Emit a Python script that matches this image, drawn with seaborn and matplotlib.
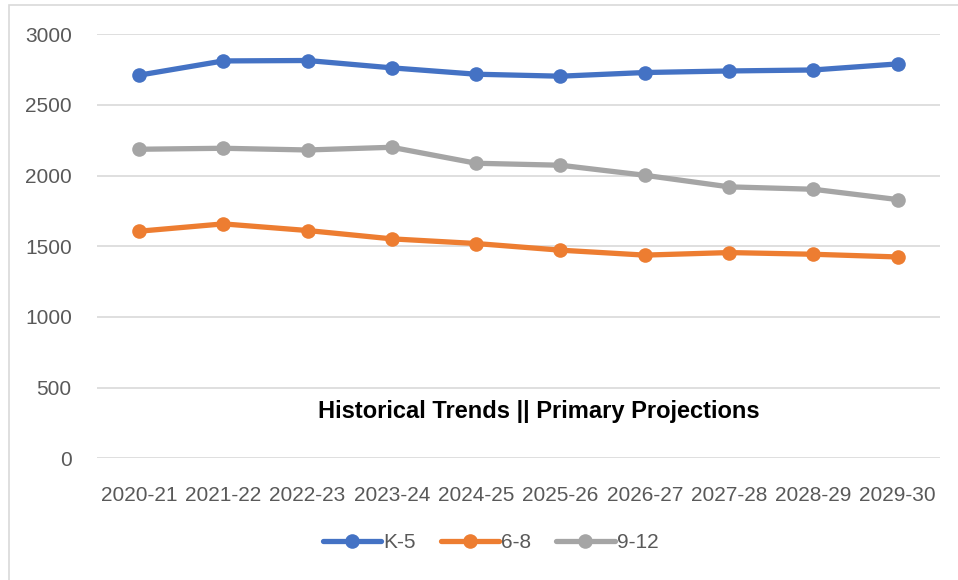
import matplotlib
matplotlib.use('Agg')
import matplotlib.pyplot as plt
from matplotlib.lines import Line2D
from matplotlib.patches import Rectangle
import seaborn as sns
import pandas as pd

# School years on the x axis
years = ['2020-21', '2021-22', '2022-23', '2023-24', '2024-25',
         '2025-26', '2026-27', '2027-28', '2028-29', '2029-30']

# Enrollment by grade band
k5 = [2710, 2811, 2814, 2762, 2717, 2703, 2729, 2740, 2747, 2790]
g6_8 = [1606, 1658, 1611, 1552, 1519, 1472, 1437, 1455, 1443, 1424]
g9_12 = [2186, 2193, 2181, 2200, 2087, 2073, 2002, 1920, 1903, 1830]

grades = ['K-5', '6-8', '9-12']
colors = ['#4472C4', '#ED7D31', '#A5A5A5']

# long format for seaborn
df = pd.DataFrame({
    'Year': years * 3,
    'Enrollment': k5 + g6_8 + g9_12,
    'Grade': [g for g in grades for _ in years],
})

sns.set_theme(style='white')
plt.rcParams['font.family'] = ['Liberation Sans', 'DejaVu Sans']

fig = plt.figure(figsize=(9.58, 5.8), dpi=100)
ax = fig.add_axes([0.101, 0.210, 0.880, 0.731])

sns.lineplot(data=df, x='Year', y='Enrollment', hue='Grade',
             palette=colors, marker='o', markersize=10.5, markeredgewidth=0,
             linewidth=3.8, legend=False, ax=ax)

ax.set_xlim(-0.5, len(years) - 0.5)
ax.set_ylim(0, 3000)
ax.set_yticks(range(0, 3001, 500))
ax.grid(axis='y', color='#D9D9D9', linewidth=1.2)
ax.set_axisbelow(True)
for s in ax.spines.values():
    s.set_visible(False)
ax.set_xlabel('')
ax.set_ylabel('')
ax.tick_params(axis='both', length=0, labelsize=15, labelcolor='#595959')
ax.tick_params(axis='y', pad=18)
ax.tick_params(axis='x', pad=20)

ax.text(4.74, 333, 'Historical Trends || Primary Projections',
        ha='center', va='center', fontsize=17, fontweight='bold', color='black')

handles = [Line2D([0], [0], color=c, linewidth=3.8, marker='o', markersize=10.5,
                  markeredgewidth=0) for c in colors]
fig.legend(handles, grades, loc='center', bbox_to_anchor=(0.512, 0.064), ncol=3,
           frameon=False, fontsize=15, labelcolor='#595959', handlelength=2.8,
           handletextpad=0.1, columnspacing=1.2)

# chart frame
fig.patches.append(Rectangle((8.5 / 958, -0.05), 1.1, (575 / 580) + 0.05,
                             transform=fig.transFigure, fill=False,
                             edgecolor='#D9D9D9', linewidth=1.2))

fig.savefig('out.png', dpi=100)
